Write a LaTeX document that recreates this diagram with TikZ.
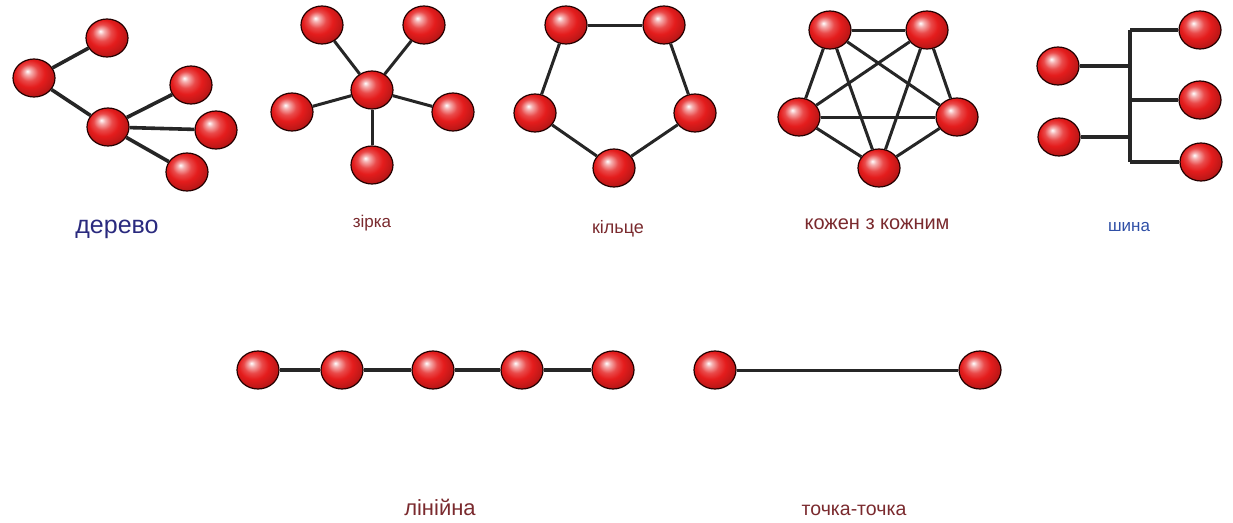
\documentclass[tikz,border=0pt]{standalone}
\usepackage{fontspec}
\setmainfont{Liberation Sans}
\usepackage{xcolor}
\usepackage{tikz}
\usetikzlibrary{shapes.geometric, shadings}

\definecolor{labred}{HTML}{7A2A2E}
\definecolor{labnavy}{HTML}{2A2A7E}
\definecolor{labblue}{HTML}{2F4FA6}
\definecolor{ballred}{HTML}{E41C1C}

% glossy red ball
\pgfdeclareradialshading{redball}{\pgfpoint{-8bp}{9bp}}{%
  color(0bp)=(white);
  color(4bp)=(ballred!35!white);
  color(11bp)=(ballred!80!white);
  color(18bp)=(ballred);
  color(26bp)=(ballred!85!black);
  color(34bp)=(ballred!65!black);
  color(50bp)=(ballred!50!black)}

\tikzset{
  ball/.style={ellipse, minimum width=42pt, minimum height=38pt, inner sep=0pt,
    shading=redball, draw=black!65!red!40!black, line width=1.2pt},
  link/.style={line width=3.6pt, black!85},
  tag/.style={font=\fontsize{#1}{#1}\selectfont, anchor=base},
}

\begin{document}
\begin{tikzpicture}[x=1pt, y=-1pt]
        \useasboundingbox (0,0) rectangle (1233,522);

        % Tree
        \node[ball] (t1) at (107,38) {};
        \node[ball] (t2) at (34,78) {};
        \node[ball] (t3) at (108,127) {};
        \node[ball] (t4) at (191,85) {};
        \node[ball] (t5) at (216,130) {};
        \node[ball] (t6) at (187,172) {};
        \draw[link] (t2) -- (t1);
        \draw[link] (t2) -- (t3);
        \draw[link] (t3) -- (t4);
        \draw[link] (t3) -- (t5);
        \draw[link] (t3) -- (t6);
        \node[tag=25, labnavy] (ltree) at (117,233) {дерево};

        % Star
        \node[ball] (sc) at (372,90) {};
        \node[ball] (s1) at (322,25) {};
        \node[ball] (s2) at (424,25) {};
        \node[ball] (s3) at (292,112) {};
        \node[ball] (s4) at (453,112) {};
        \node[ball] (s5) at (372,165) {};
        \foreach \s in {s1,s2,s3,s4,s5}
          \draw[link, line width=3pt] (sc) -- (\s);
        \node[tag=17, labred] (lstar) at (372,227) {зірка};

        % Ring
        \node[ball] (r1) at (566,25) {};
        \node[ball] (r2) at (664,25) {};
        \node[ball] (r3) at (695,113) {};
        \node[ball] (r4) at (614,168) {};
        \node[ball] (r5) at (535,113) {};
        \draw[link, line width=3pt] (r1) -- (r2);
        \draw[link, line width=3pt] (r2) -- (r3);
        \draw[link, line width=3pt] (r3) -- (r4);
        \draw[link, line width=3pt] (r4) -- (r5);
        \draw[link, line width=3pt] (r5) -- (r1);
        \node[tag=18, labred] (lring) at (618,233) {кільце};

        % Full mesh
        \node[ball] (m1) at (830,30) {};
        \node[ball] (m2) at (927,30) {};
        \node[ball] (m3) at (957,117) {};
        \node[ball] (m4) at (879,168) {};
        \node[ball] (m5) at (799,117) {};
        \foreach \a/\b in {m1/m2,m1/m3,m1/m4,m1/m5,m2/m3,m2/m4,m2/m5,m3/m4,m3/m5,m4/m5}
          \draw[link, line width=3pt] (\a) -- (\b);
        \node[tag=20, labred] (lmesh) at (877,229) {кожен з кожним};

        % Bus
        \coordinate (bustop) at (1130,30);
        \coordinate (busbot) at (1130,162);
        \node[ball] (b1) at (1058,66) {};
        \node[ball] (b2) at (1059,137) {};
        \node[ball] (b3) at (1200,30) {};
        \node[ball] (b4) at (1200,100) {};
        \node[ball] (b5) at (1201,162) {};
        \draw[link] (bustop) -- (busbot);
        \draw[link] (b1) -- (b1 -| bustop);
        \draw[link] (b2) -- (b2 -| bustop);
        \draw[link] (b3) -- (b3 -| bustop);
        \draw[link] (b4) -- (b4 -| bustop);
        \draw[link] (b5) -- (b5 -| bustop);
        \node[tag=17, labblue] (lbus) at (1129,231) {шина};

        % Linear
        \node[ball] (l1) at (258,370) {};
        \node[ball] (l2) at (342,370) {};
        \node[ball] (l3) at (433,370) {};
        \node[ball] (l4) at (522,370) {};
        \node[ball] (l5) at (613,370) {};
        \draw[link] (l1) -- (l2);
        \draw[link] (l2) -- (l3);
        \draw[link] (l3) -- (l4);
        \draw[link] (l4) -- (l5);
        \node[tag=22, labred] (lline) at (440,515) {лінійна};

        % Point to point
        \node[ball] (p1) at (715,370) {};
        \node[ball] (p2) at (980,370) {};
        \draw[link, line width=3pt] (p1) -- (p2);
        \node[tag=19.5, labred] (lpoint) at (854,515) {точка-точка};
\end{tikzpicture}
\end{document}
